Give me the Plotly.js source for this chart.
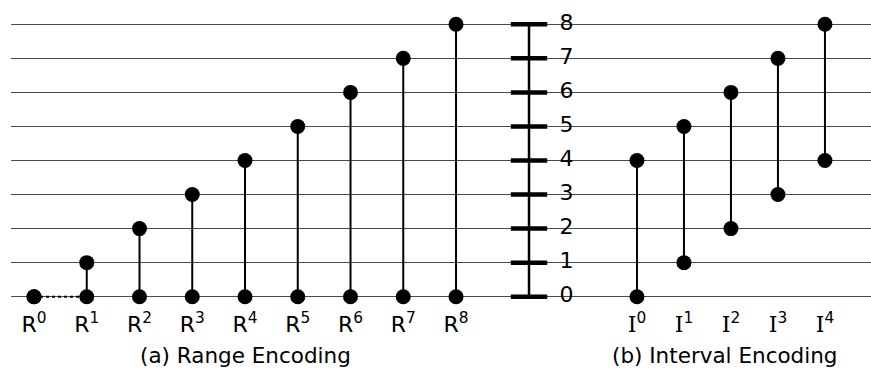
<!DOCTYPE html>
<html>
<head>
<meta charset="utf-8">
<script src="https://cdn.plot.ly/plotly-3.0.1.min.js"></script>
<style>html,body{margin:0;padding:0;background:#fff;}#chart{width:871px;height:369px;}</style>
</head>
<body>
<div id="chart"></div>
<script>
// ---- data ----
const rLabels = ['R<sup>0</sup>','R<sup>1</sup>','R<sup>2</sup>','R<sup>3</sup>','R<sup>4</sup>','R<sup>5</sup>','R<sup>6</sup>','R<sup>7</sup>','R<sup>8</sup>'];
const rLow  = [0,0,0,0,0,0,0,0,0];
const rHigh = [0,1,2,3,4,5,6,7,8];
const iLabels = ['I<sup>0</sup>','I<sup>1</sup>','I<sup>2</sup>','I<sup>3</sup>','I<sup>4</sup>'];
const iLow  = [0,1,2,3,4];
const iHigh = [4,5,6,7,8];
const scaleValues = [0,1,2,3,4,5,6,7,8];
const scaleLabels = ['0','1','2','3','4','5','6','7','8'];
const titleA = '(a) Range Encoding';
const titleB = '(b) Interval Encoding';

// ---- layout constants ----
const FONT = 'DejaVu Sans, Verdana, sans-serif';
const AXIS_X = 9.384;   // position of central scale on x axis
const LABEL_X = 9.96;   // position of central scale labels

function segs(n, lo, hi) {
  const x = [], y = [];
  for (let i = 0; i < n; i++) { x.push(i, i, null); y.push(lo[i], hi[i], null); }
  return {x, y};
}
function dots(n, lo, hi) {
  const x = [], y = [];
  for (let i = 0; i < n; i++) { x.push(i, i); y.push(lo[i], hi[i]); }
  return {x, y};
}
const rs = segs(rLabels.length, rLow, rHigh), rd = dots(rLabels.length, rLow, rHigh);
const is = segs(iLabels.length, iLow, iHigh), idt = dots(iLabels.length, iLow, iHigh);

const traces = [
  {x: [0, 1], y: [rLow[0], rLow[1]], mode: 'lines', line: {color: '#000', width: 2, dash: 'dot'}, xaxis: 'x', yaxis: 'y', hoverinfo: 'skip'},
  {x: rs.x, y: rs.y, mode: 'lines', line: {color: '#000', width: 2}, xaxis: 'x', yaxis: 'y', hoverinfo: 'skip'},
  {x: rd.x, y: rd.y, mode: 'markers', marker: {color: '#000', size: 15}, xaxis: 'x', yaxis: 'y', cliponaxis: false},
  {x: is.x, y: is.y, mode: 'lines', line: {color: '#000', width: 2}, xaxis: 'x2', yaxis: 'y', hoverinfo: 'skip'},
  {x: idt.x, y: idt.y, mode: 'markers', marker: {color: '#000', size: 15}, xaxis: 'x2', yaxis: 'y', cliponaxis: false},
  {x: [AXIS_X, AXIS_X], y: [scaleValues[0], scaleValues[scaleValues.length-1]], mode: 'lines', line: {color: '#000', width: 2.5}, xaxis: 'x', yaxis: 'y'},
  {x: scaleValues.map(() => AXIS_X), y: scaleValues, mode: 'markers', marker: {symbol: 'line-ew', size: 26, line: {color: '#000', width: 4.5}}, xaxis: 'x', yaxis: 'y', cliponaxis: false},
  {x: scaleValues.map(() => LABEL_X), y: scaleValues, text: scaleLabels, mode: 'text', textposition: 'middle right',
   textfont: {family: FONT, size: 22, color: '#000'}, xaxis: 'x', yaxis: 'y', cliponaxis: false}
];

const layout = {
  width: 871, height: 369,
  margin: {l: 11, r: 0, t: 0, b: 60},
  paper_bgcolor: '#fff', plot_bgcolor: '#fff',
  showlegend: false,
  font: {family: FONT, size: 22, color: '#000'},
  xaxis: {range: [-0.436, 15.867], tickvals: rLabels.map((_, i) => i), ticktext: rLabels,
          showgrid: false, zeroline: false, showline: false, ticks: '', fixedrange: true,
          tickfont: {family: FONT, size: 22, color: '#000'}},
  xaxis2: {range: [-13.32, 4.98], overlaying: 'x', side: 'bottom', anchor: 'y',
           tickvals: iLabels.map((_, i) => i),
           ticktext: iLabels.map(t => t.replace(/^I/, '<span style="font-family:DejaVu Serif">I</span>')),
           showgrid: false, zeroline: false, showline: false, ticks: '', fixedrange: true,
           tickfont: {family: FONT, size: 22, color: '#000'}},
  yaxis: {range: [-0.361, 8.7137], tickvals: scaleValues, showticklabels: false,
          showgrid: true, gridcolor: '#4a4a4a', gridwidth: 1, zeroline: false, showline: false, ticks: '', fixedrange: true},
  annotations: [
    {text: titleA, xref: 'paper', yref: 'paper', x: 0.273, y: -0.152, xanchor: 'center', yanchor: 'middle', showarrow: false, font: {family: FONT, size: 21.5, color: '#000'}},
    {text: titleB, xref: 'paper', yref: 'paper', x: 0.830, y: -0.152, xanchor: 'center', yanchor: 'middle', showarrow: false, font: {family: FONT, size: 21.5, color: '#000'}}
  ]
};

Plotly.newPlot('chart', traces, layout, {displayModeBar: false, staticPlot: true});
</script>
</body>
</html>
